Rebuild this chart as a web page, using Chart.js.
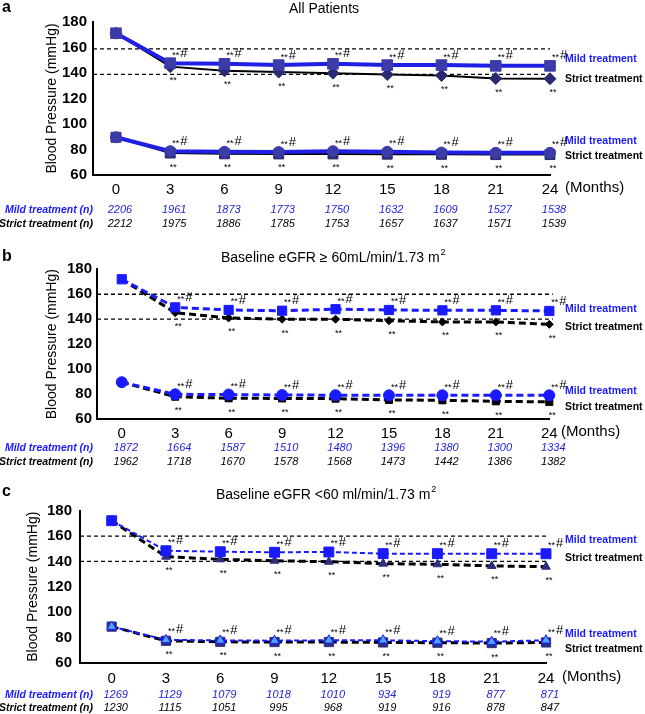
<!DOCTYPE html>
<html>
<head>
<meta charset="utf-8">
<script src="https://cdn.jsdelivr.net/npm/chart.js@4.4.1/dist/chart.umd.min.js"></script>
<style>
	html, body { margin: 0; padding: 0; background: #fff; }
	#wrap { position: relative; width: 645px; height: 714px; }
	canvas { position: absolute; left: 0; }
</style>
</head>
<body>
<div id="wrap">
	<canvas id="chartA" width="645" height="240" style="top:0px"></canvas>
	<canvas id="chartB" width="645" height="230" style="top:240px"></canvas>
	<canvas id="chartC" width="645" height="244" style="top:470px"></canvas>
</div>
<script>
// months of follow-up and their tick labels
var months = [0, 3, 6, 9, 12, 15, 18, 21, 24];
var monthLabels = ['0', '3', '6', '9', '12', '15', '18', '21', '24'];
var yTicks = [60, 80, 100, 120, 140, 160, 180];

// a: all patients
var aMildSys = [171.2, 147.7, 147.2, 146.2, 147.2, 146.2, 146.2, 145.6, 145.6];
var aStrictSys = [171.2, 145.0, 141.7, 140.7, 139.9, 138.8, 138.0, 135.7, 135.5];
var aMildDia = [89.6, 78.7, 78.2, 78.0, 78.7, 78.2, 77.6, 77.4, 77.4];
var aStrictDia = [89.6, 77.2, 76.6, 76.5, 76.5, 76.3, 76.2, 76.0, 76.0];
var aMildN = [2206, 1961, 1873, 1773, 1750, 1632, 1609, 1527, 1538];
var aStrictN = [2212, 1975, 1886, 1785, 1753, 1657, 1637, 1571, 1539];
var aRef = [159, 139];

// b: baseline eGFR >= 60
var bMildSys = [172.0, 149.5, 147.4, 146.8, 148.0, 147.4, 147.1, 147.1, 146.6];
var bStrictSys = [172.0, 145.2, 141.0, 140.0, 140.0, 138.8, 137.8, 137.8, 135.9];
var bMildDia = [89.5, 79.8, 79.6, 79.2, 79.1, 79.0, 79.0, 79.0, 79.0];
var bStrictDia = [89.5, 77.9, 76.6, 76.5, 76.3, 75.3, 75.0, 74.2, 73.7];
var bMildN = [1872, 1664, 1587, 1510, 1480, 1396, 1380, 1300, 1334];
var bStrictN = [1962, 1718, 1670, 1578, 1568, 1473, 1442, 1386, 1382];
var bRef = [160, 140];

// c: baseline eGFR < 60
var cMildSys = [172.1, 148.4, 147.6, 147.2, 147.4, 146.1, 146.1, 146.0, 146.0];
var cStrictSys = [172.1, 143.7, 141.6, 140.5, 139.7, 138.2, 137.7, 136.4, 135.8];
var cMildDia = [88.5, 78.0, 77.6, 77.4, 77.7, 77.7, 77.0, 76.6, 77.7];
var cStrictDia = [88.5, 77.3, 76.5, 76.3, 76.3, 76.0, 75.8, 75.5, 76.0];
var cMildN = [1269, 1129, 1079, 1018, 1010, 934, 919, 877, 871];
var cStrictN = [1230, 1115, 1051, 995, 968, 919, 916, 878, 847];
var cRef = [160, 140];

var FONT = 'Arial, "Liberation Sans", sans-serif';
var BLUE = '#1a1aff';

function toPoints(vals) {
	return vals.map(function(v, i) { return { x: months[i], y: v }; });
}

function refLine(level, xMin, xEnd) {
	return {
		data: [{ x: xMin, y: level }, { x: xEnd, y: level }],
		borderColor: '#000',
		borderWidth: 1.3,
		borderDash: [4, 3],
		pointRadius: 0,
		clip: false
	};
}

function series(vals, st) {
	return {
		data: toPoints(vals),
		borderColor: st.line,
		borderWidth: st.width,
		borderDash: st.dash || [],
		pointStyle: st.shape,
		pointRadius: st.r,
		pointBackgroundColor: st.fill,
		pointBorderColor: st.edge || st.fill,
		pointBorderWidth: 1,
		clip: false,
		tension: 0
	};
}

// text that is not part of the axes: letter, title, n rows, labels, significance marks
function textPlugin(cfg) {
	return {
		id: 'panelText',
		afterDatasetsDraw: function(chart) {
			var ctx = chart.ctx;
			var xs = chart.scales.x;
			ctx.save();
			ctx.textBaseline = 'middle';

			ctx.fillStyle = '#000';
			ctx.font = 'bold 16px ' + FONT;
			ctx.textAlign = 'left';
			ctx.fillText(cfg.letter, 2, cfg.letterY);

			ctx.font = '14px ' + FONT;
			ctx.fillText(cfg.title, cfg.titleX, cfg.titleY);
			if (cfg.titleSup) {
				var w = ctx.measureText(cfg.title).width;
				ctx.font = '9px ' + FONT;
				ctx.fillText(cfg.titleSup, cfg.titleX + w + 1, cfg.titleY - 5);
			}

			ctx.font = '15px ' + FONT;
			ctx.fillText('(Months)', cfg.monthsX, cfg.xLabelY);

			// n rows
			ctx.textAlign = 'right';
			ctx.font = 'italic bold 10.5px ' + FONT;
			ctx.fillStyle = BLUE;
			ctx.fillText('Mild treatment (n)', 93, cfg.nMildY);
			ctx.fillStyle = '#000';
			ctx.fillText('Strict treatment (n)', 93, cfg.nStrictY);
			ctx.textAlign = 'center';
			ctx.font = 'italic 11px ' + FONT;
			months.forEach(function(m, i) {
				var px = xs.getPixelForValue(m) + 4;
				ctx.fillStyle = '#2222dd';
				ctx.fillText(String(cfg.mildN[i]), px, cfg.nMildY);
				ctx.fillStyle = '#000';
				ctx.fillText(String(cfg.strictN[i]), px, cfg.nStrictY);
			});

			// right hand labels
			ctx.textAlign = 'left';
			ctx.font = 'bold 10.5px ' + FONT;
			cfg.labels.forEach(function(l) {
				ctx.fillStyle = l.mild ? BLUE : '#000';
				ctx.fillText(l.mild ? 'Mild treatment' : 'Strict treatment', 565, l.y);
			});

			// ** and **# marks
			ctx.fillStyle = '#000';
			cfg.above.forEach(function(di) {
				var pts = chart.getDatasetMeta(di).data;
				for (var j = 1; j < pts.length; j++) {
					ctx.font = '9px ' + FONT;
					ctx.textAlign = 'left';
					ctx.fillText('**', pts[j].x + 2, pts[j].y - 8);
					ctx.font = '13px ' + FONT;
					ctx.fillText('#', pts[j].x + 10, pts[j].y - 10);
				}
			});
			cfg.below.forEach(function(di) {
				var pts = chart.getDatasetMeta(di).data;
				for (var j = 1; j < pts.length; j++) {
					ctx.font = '9px ' + FONT;
					ctx.textAlign = 'center';
					ctx.fillText('**', pts[j].x + 3, pts[j].y + 14);
				}
			});
			ctx.restore();
		}
	};
}

function makePanel(id, cfg) {
	var canvas = document.getElementById(id);
	var datasets = [
		series(cfg.mildSys, cfg.mildSysStyle),
		series(cfg.mildDia, cfg.mildDiaStyle),
		series(cfg.strictSys, cfg.strictSysStyle),
		series(cfg.strictDia, cfg.strictDiaStyle)
	];
	cfg.ref.forEach(function(level) {
		datasets.push(refLine(level, cfg.xMin, cfg.refEnd));
	});
	return new Chart(canvas, {
		type: 'line',
		data: { datasets: datasets },
		options: {
			responsive: false,
			animation: false,
			events: [],
			layout: {
				padding: { left: cfg.axisLeft, top: cfg.top, right: 645 - cfg.right, bottom: 0 }
			},
			plugins: { legend: { display: false }, tooltip: { enabled: false } },
			scales: {
				x: {
					type: 'linear',
					min: cfg.xMin,
					max: 24,
					grid: { display: false, drawTicks: false },
					border: { display: true, color: '#000', width: 2 },
					afterBuildTicks: function(axis) {
						axis.ticks = months.map(function(m) { return { value: m }; });
					},
					afterFit: function(axis) { axis.height = canvas.height - cfg.bottom; },
					ticks: {
						color: '#000',
						padding: cfg.xPad,
						maxRotation: 0,
						autoSkip: false,
						font: { family: FONT, size: 15 },
						callback: function(v) { return monthLabels[months.indexOf(v)]; }
					}
				},
				y: {
					min: 60,
					max: 180,
					grid: { display: false, drawTicks: false },
					border: { display: true, color: '#000', width: 2 },
					afterBuildTicks: function(axis) {
						axis.ticks = yTicks.map(function(v) { return { value: v }; });
					},
					afterFit: function(axis) { axis.width = cfg.left - cfg.axisLeft; },
					ticks: {
						color: '#000',
						padding: cfg.yPad,
						font: { family: FONT, size: 15, weight: 'bold' }
					},
					title: {
						display: true,
						text: 'Blood Pressure (mmHg)',
						color: '#000',
						font: { family: FONT, size: 14 }
					}
				}
			}
		},
		plugins: [textPlugin(cfg)]
	});
}

makePanel('chartA', {
	letter: 'a', letterY: 8, title: 'All Patients', titleX: 289, titleY: 9,
	axisLeft: 39.6, left: 93, right: 550, top: 22, bottom: 175, xMin: -1.27, refEnd: 24,
	xPad: 6, yPad: 6, xLabelY: 188, monthsX: 565, nMildY: 210, nStrictY: 224,
	mildSys: aMildSys, strictSys: aStrictSys, mildDia: aMildDia, strictDia: aStrictDia,
	mildN: aMildN, strictN: aStrictN, ref: aRef,
	mildSysStyle: { line: '#1f1fe6', width: 4, shape: 'rect', r: 7.5, fill: '#3c3ca8' },
	mildDiaStyle: { line: '#1f1fe6', width: 4, shape: 'circle', r: 5.5, fill: '#3c3ca8' },
	strictSysStyle: { line: '#000', width: 2, shape: 'rectRot', r: 6, fill: '#2a2a70' },
	strictDiaStyle: { line: '#000', width: 2, shape: 'rect', r: 7, fill: '#2a2a70' },
	labels: [{ mild: true, y: 59 }, { mild: false, y: 79 }, { mild: true, y: 141 }, { mild: false, y: 156 }],
	above: [0, 1], below: [2, 3]
});

makePanel('chartB', {
	letter: 'b', letterY: 17, title: 'Baseline eGFR \u2265 60mL/min/1.73 m', titleSup: '2', titleX: 221, titleY: 18,
	axisLeft: 39.3, left: 97, right: 549.3, top: 29.3, bottom: 179, xMin: -1.39, refEnd: 24.2,
	xPad: 6, yPad: 5, xLabelY: 191.7, monthsX: 561, nMildY: 208.3, nStrictY: 221.7,
	mildSys: bMildSys, strictSys: bStrictSys, mildDia: bMildDia, strictDia: bStrictDia,
	mildN: bMildN, strictN: bStrictN, ref: bRef,
	mildSysStyle: { line: BLUE, width: 3, dash: [7, 4], shape: 'rect', r: 6.5, fill: BLUE },
	mildDiaStyle: { line: BLUE, width: 3, dash: [7, 4], shape: 'circle', r: 5.5, fill: BLUE },
	strictSysStyle: { line: '#000', width: 3, dash: [7, 4], shape: 'rectRot', r: 4, fill: '#000' },
	strictDiaStyle: { line: '#000', width: 3, dash: [7, 4], shape: 'rect', r: 5, fill: '#000' },
	labels: [{ mild: true, y: 69 }, { mild: false, y: 87 }, { mild: true, y: 151 }, { mild: false, y: 167 }],
	above: [0, 1], below: [2, 3]
});

makePanel('chartC', {
	letter: 'c', letterY: 22, title: 'Baseline eGFR <60 ml/min/1.73 m', titleSup: '2', titleX: 216, titleY: 25,
	axisLeft: 20.9, left: 80, right: 546, top: 40.7, bottom: 192.7, xMin: -1.75, refEnd: 24.1,
	xPad: 7, yPad: 8, xLabelY: 207.3, monthsX: 562, nMildY: 225, nStrictY: 238.3,
	mildSys: cMildSys, strictSys: cStrictSys, mildDia: cMildDia, strictDia: cStrictDia,
	mildN: cMildN, strictN: cStrictN, ref: cRef,
	mildSysStyle: { line: BLUE, width: 2, dash: [5, 3], shape: 'rect', r: 7, fill: BLUE },
	mildDiaStyle: { line: BLUE, width: 2, dash: [5, 3], shape: 'triangle', r: 5.5, fill: '#4da6ff', edge: BLUE },
	strictSysStyle: { line: '#000', width: 3, dash: [7, 4], shape: 'triangle', r: 5, fill: '#2e2e80' },
	strictDiaStyle: { line: '#000', width: 3, dash: [7, 4], shape: 'rect', r: 6.5, fill: '#2e2e80' },
	labels: [{ mild: true, y: 70 }, { mild: false, y: 88 }, { mild: true, y: 164 }, { mild: false, y: 179 }],
	above: [0, 1], below: [2, 3]
});
</script>
</body>
</html>
